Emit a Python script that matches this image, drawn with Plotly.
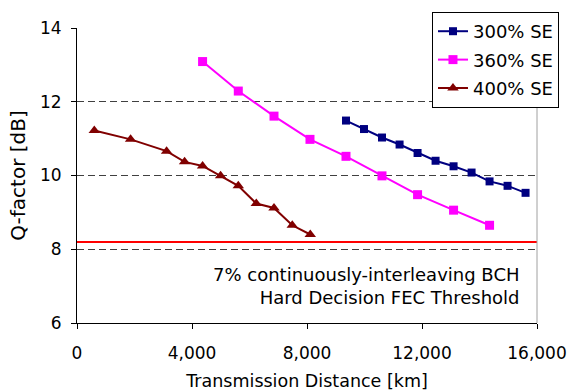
import plotly.graph_objects as go

# Data
dist_300 = [9356, 9982, 10608, 11220, 11846, 12472, 13098, 13724, 14350, 14976, 15602]
q_300 = [11.49, 11.26, 11.03, 10.84, 10.61, 10.40, 10.25, 10.08, 9.84, 9.72, 9.53]

dist_360 = [4368, 5610, 6852, 8104, 9356, 10608, 11846, 13098, 14350]
q_360 = [13.09, 12.29, 11.61, 10.98, 10.52, 9.99, 9.48, 9.06, 8.65]

dist_400 = [602, 1864, 3116, 3742, 4368, 4994, 5610, 6236, 6852, 7488, 8114]
q_400 = [11.22, 10.98, 10.66, 10.37, 10.26, 9.99, 9.72, 9.24, 9.12, 8.65, 8.40]

fec_threshold = 8.2
x_ticks = [0, 4000, 8000, 12000, 16000]
y_ticks = [6, 8, 10, 12, 14]

FONT = "DejaVu Sans"

fig = go.Figure()
series = [
    ("300% SE", dist_300, q_300, "#000080", "square", 8),
    ("360% SE", dist_360, q_360, "#FF00FF", "square", 9),
    ("400% SE", dist_400, q_400, "#800000", "triangle-up", 10),
]
for name, xs, ys, col, sym, sz in series:
    fig.add_trace(go.Scatter(
        x=xs, y=ys, name=name, mode="lines+markers", legendgroup=name,
        line=dict(color=col, width=2),
        marker=dict(symbol=sym, size=sz, color=col),
    ))

fig.add_shape(type="line", xref="paper", x0=0, x1=1, yref="y",
              y0=fec_threshold, y1=fec_threshold,
              line=dict(color="#FF0000", width=2))
fig.add_shape(type="line", xref="paper", x0=1, x1=1, yref="paper", y0=0, y1=1,
              line=dict(color="#A0A0A0", width=1))

fig.add_annotation(
    xref="paper", yref="paper", x=0.967, y=0.124,
    xanchor="right", yanchor="middle", align="right", showarrow=False,
    text="7% continuously-interleaving BCH<br>Hard Decision FEC Threshold",
    font=dict(family=FONT, size=18, color="black"),
)

fig.update_layout(
    width=568, height=391,
    margin=dict(l=77, r=31, t=28, b=68, autoexpand=False),
    paper_bgcolor="white", plot_bgcolor="white",
    font=dict(family=FONT, size=17, color="black"),
    showlegend=True,
    legend=dict(
        x=0.7717, y=1.0542, xanchor="left", yanchor="top",
        bgcolor="white", bordercolor="black", borderwidth=1,
        font=dict(family=FONT, size=18, color="black"),
        tracegroupgap=2,
    ),
    xaxis=dict(
        range=[0, 16000], tickvals=x_ticks, tickformat=",",
        showline=True, linecolor="black", linewidth=1,
        ticks="outside", ticklen=5, tickcolor="black",
        showgrid=False, zeroline=False, automargin=False,
        ticklabelstandoff=10,
        title=dict(text="Transmission Distance [km]",
                   font=dict(family=FONT, size=17.5), standoff=14),
    ),
    yaxis=dict(
        range=[6, 14], tickvals=y_ticks,
        showline=True, linecolor="black", linewidth=1,
        ticks="outside", ticklen=5, tickcolor="black",
        showgrid=True, gridcolor="#404040", gridwidth=1, griddash="7px,4px",
        zeroline=False, automargin=False,
        ticklabelstandoff=6,
        title=dict(text="Q-factor [dB]", font=dict(family=FONT, size=20), standoff=8),
    ),
)

fig.write_html("out.html")
